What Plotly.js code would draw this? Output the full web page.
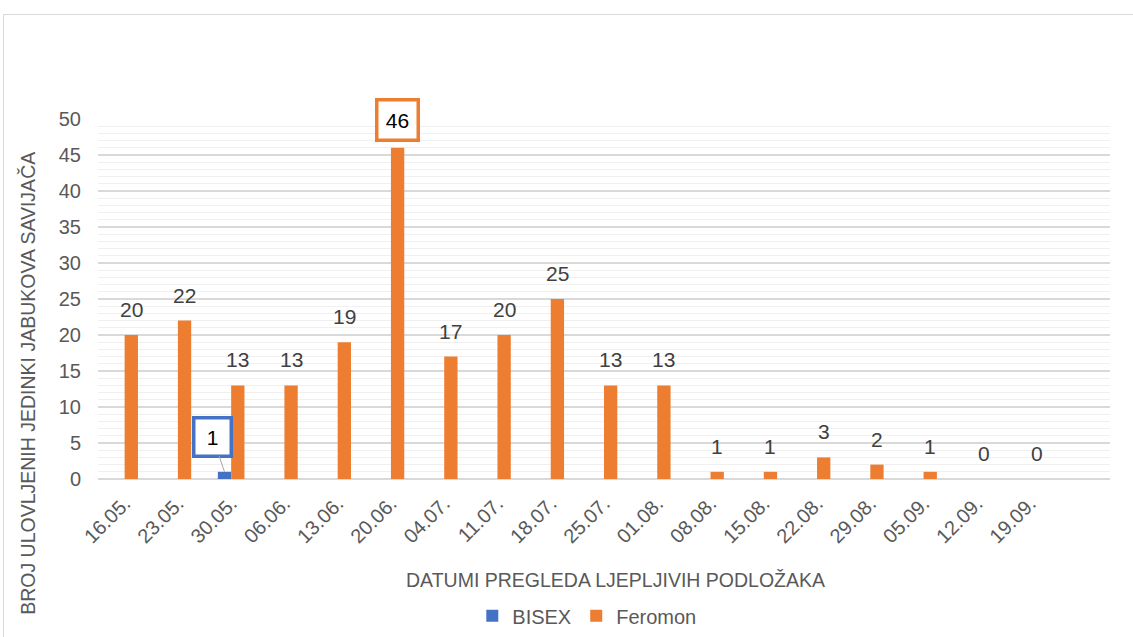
<!DOCTYPE html>
<html>
<head>
<meta charset="utf-8">
<script src="https://cdn.plot.ly/plotly-3.0.1.min.js"></script>
<style>
  html, body { margin: 0; padding: 0; background: #fff; overflow: hidden; }
  #frame { position: absolute; left: 3px; top: 14px; width: 1300px; height: 800px; border: 1px solid #d9d9d9; pointer-events: none; }
  #chart { position: absolute; left: 0; top: 0; width: 1133px; height: 637px; }
</style>
</head>
<body>
<div id="frame"></div>
<div id="chart"></div>
<script>
// ---- data ----
const categories = ["16.05.", "23.05.", "30.05.", "06.06.", "13.06.", "20.06.", "04.07.", "11.07.", "18.07.",
                    "25.07.", "01.08.", "08.08.", "15.08.", "22.08.", "29.08.", "05.09.", "12.09.", "19.09."];
const bisex   = [null, null, 1, null, null, null, null, null, null, null, null, null, null, null, null, null, null, null];
const feromon = [20, 22, 13, 13, 19, 46, 17, 20, 25, 13, 13, 1, 1, 3, 2, 1, 0, 0];
const seriesNames = ["BISEX", "Feromon"];
const yTitle = "BROJ ULOVLJENIH JEDINKI JABUKOVA SAVIJAČA";
const xTitle = "DATUMI PREGLEDA LJEPLJIVIH PODLOŽAKA";

const BLUE = "#4472C4", ORANGE = "#ED7D31";
const FONT = "Liberation Sans, Arial, sans-serif";
const TXT = "#595959";

const traces = [
  { type: "bar", name: seriesNames[0], x: categories, y: bisex, marker: { color: BLUE }, hoverinfo: "x+y+name" },
  { type: "bar", name: seriesNames[1], x: categories, y: feromon, marker: { color: ORANGE }, hoverinfo: "x+y+name" }
];

const annotations = [];
const maxVal = Math.max(...feromon);
feromon.forEach((v, i) => {
  if (v === maxVal) {
    annotations.push({
      x: i + 0.125, y: v, xref: "x", yref: "y", yanchor: "bottom", yshift: 6,
      text: String(v), showarrow: false,
      font: { family: FONT, size: 21, color: "#000" },
      bgcolor: "#fff", bordercolor: ORANGE, borderwidth: 3.5, borderpad: 3,
      width: 32, height: 31
    });
  } else {
    annotations.push({
      x: i + 0.125, y: v, xref: "x", yref: "y", yanchor: "bottom", yshift: 12,
      text: String(v), showarrow: false,
      font: { family: FONT, size: 21, color: "#404040" }
    });
  }
});
bisex.forEach((v, i) => {
  if (v === null) return;
  annotations.push({
    x: i - 0.125, y: v, xref: "x", yref: "y",
    text: String(v), showarrow: true, arrowhead: 0, arrowwidth: 1, arrowcolor: "#a6a6a6",
    ax: -12, ay: -35, standoff: 0, startstandoff: 0,
    font: { family: FONT, size: 21, color: "#000" },
    bgcolor: "#fff", bordercolor: BLUE, borderwidth: 3.5, borderpad: 3,
    width: 28, height: 29
  });
});
// axis titles
annotations.push({
  xref: "paper", yref: "paper", x: -0.0692, y: 0.267, text: yTitle, textangle: -90,
  showarrow: false, xanchor: "center", yanchor: "middle",
  font: { family: FONT, size: 19.5, color: TXT }
});
annotations.push({
  xref: "paper", yref: "paper", x: 0.511, y: -0.281, text: xTitle,
  showarrow: false, xanchor: "center", yanchor: "middle",
  font: { family: FONT, size: 19.5, color: TXT }
});

const layout = {
  width: 1133, height: 637,
  margin: { l: 98, r: 23, t: 119, b: 158, pad: 0, autoexpand: false },
  paper_bgcolor: "rgba(0,0,0,0)", plot_bgcolor: "rgba(0,0,0,0)",
  font: { family: FONT, size: 19, color: TXT },
  barmode: "group", bargap: 0.5, bargroupgap: 0,
  showlegend: true,
  legend: { orientation: "h", x: 0.483, xanchor: "center", y: -0.38, yanchor: "middle",
            font: { family: FONT, size: 20, color: TXT }, itemwidth: 30, traceorder: "normal" },
  xaxis: {
    type: "category", range: [-0.5, 18.5], tickangle: -45, showgrid: false, automargin: false,
    showline: false, zeroline: false, ticks: "", ticklabelstandoff: 8,
    tickfont: { family: FONT, size: 20, color: TXT }, fixedrange: true
  },
  yaxis: {
    range: [0, 50], dtick: 5, tick0: 0, showgrid: true, gridcolor: "#d9d9d9", gridwidth: 1.3,
    zeroline: true, zerolinecolor: "#d9d9d9", zerolinewidth: 1.5, showline: false, ticks: "",
    ticklabelstandoff: 16, automargin: false,
    minor: { dtick: 1, tick0: 0, showgrid: true, gridcolor: "#f0f0f0", gridwidth: 1 },
    tickfont: { family: FONT, size: 20, color: TXT }, fixedrange: true
  },
  annotations: annotations
};

Plotly.newPlot("chart", traces, layout, { displayModeBar: false, staticPlot: true });
</script>
</body>
</html>
